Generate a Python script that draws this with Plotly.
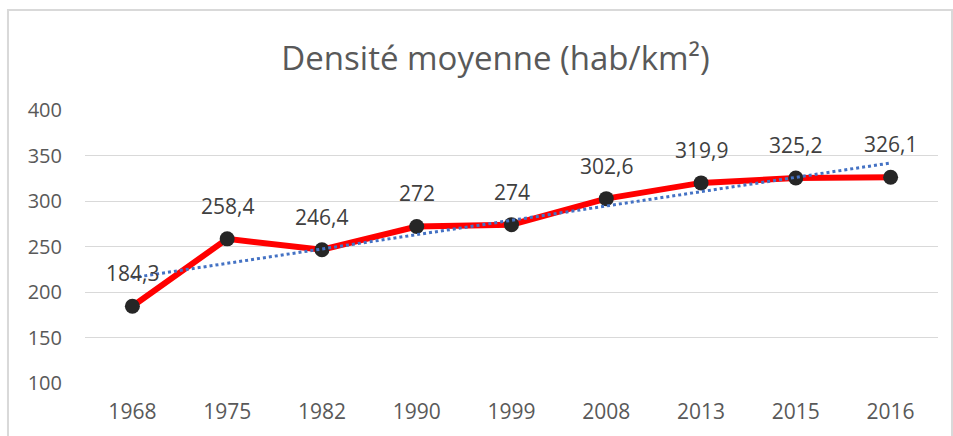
import plotly.graph_objects as go
import numpy as np

years = ["1968", "1975", "1982", "1990", "1999", "2008", "2013", "2015", "2016"]
density = [184.3, 258.4, 246.4, 272, 274, 302.6, 319.9, 325.2, 326.1]
y_ticks = [100, 150, 200, 250, 300, 350, 400]

# Categories are placed at evenly spaced positions 0..n-1
pos = np.arange(len(years))

# Linear trend over the category index
slope, intercept = np.polyfit(pos, density, 1)
trend = slope * pos + intercept

fig = go.Figure()

fig.add_trace(go.Scatter(
    x=pos, y=density, mode="lines+markers",
    line=dict(color="#FF0000", width=6),
    marker=dict(color="#262626", size=15),
    showlegend=False, hoverinfo="skip",
))

fig.add_trace(go.Scatter(
    x=pos, y=trend, mode="lines",
    line=dict(color="#4472C4", width=3, dash="dot"),
    showlegend=False, hoverinfo="skip",
))

def fmt(v):
    return f"{v:g}".replace(".", ",")

for p, v in zip(pos, density):
    fig.add_annotation(
        x=p, y=v, text=fmt(v), showarrow=False, yshift=33,
        font=dict(family="Open Sans", size=21, color="#404040"),
    )

# Chart frame
fig.add_shape(
    type="rect", xref="paper", yref="paper",
    x0=-0.0903, x1=1.0164, y0=-0.25, y1=1.366,
    line=dict(color="#D9D9D9", width=2), fillcolor="rgba(0,0,0,0)",
    layer="below",
)

fig.update_layout(
    width=953, height=436,
    margin=dict(l=85, r=15, t=110, b=53),
    paper_bgcolor="white", plot_bgcolor="white",
    title=dict(
        text="Densité moyenne (hab/km²)",
        x=0.52, xanchor="center", y=0.866, yanchor="middle",
        font=dict(family="Open Sans", size=33, color="#595959"),
    ),
    xaxis=dict(
        range=[-0.5, len(years) - 0.5], tickvals=pos, ticktext=years,
        showgrid=False, showline=False, zeroline=False,
        ticks="", tickfont=dict(family="Open Sans", size=21, color="#595959"),
        ticklabelstandoff=14,
    ),
    yaxis=dict(
        range=[100, 400], tickvals=y_ticks, showgrid=True,
        gridcolor="#D9D9D9", gridwidth=1, zeroline=False, showline=False,
        ticks="", tickfont=dict(family="Open Sans", size=20, color="#595959"),
        ticklabelstandoff=22,
    ),
)

fig.write_html("out.html")
